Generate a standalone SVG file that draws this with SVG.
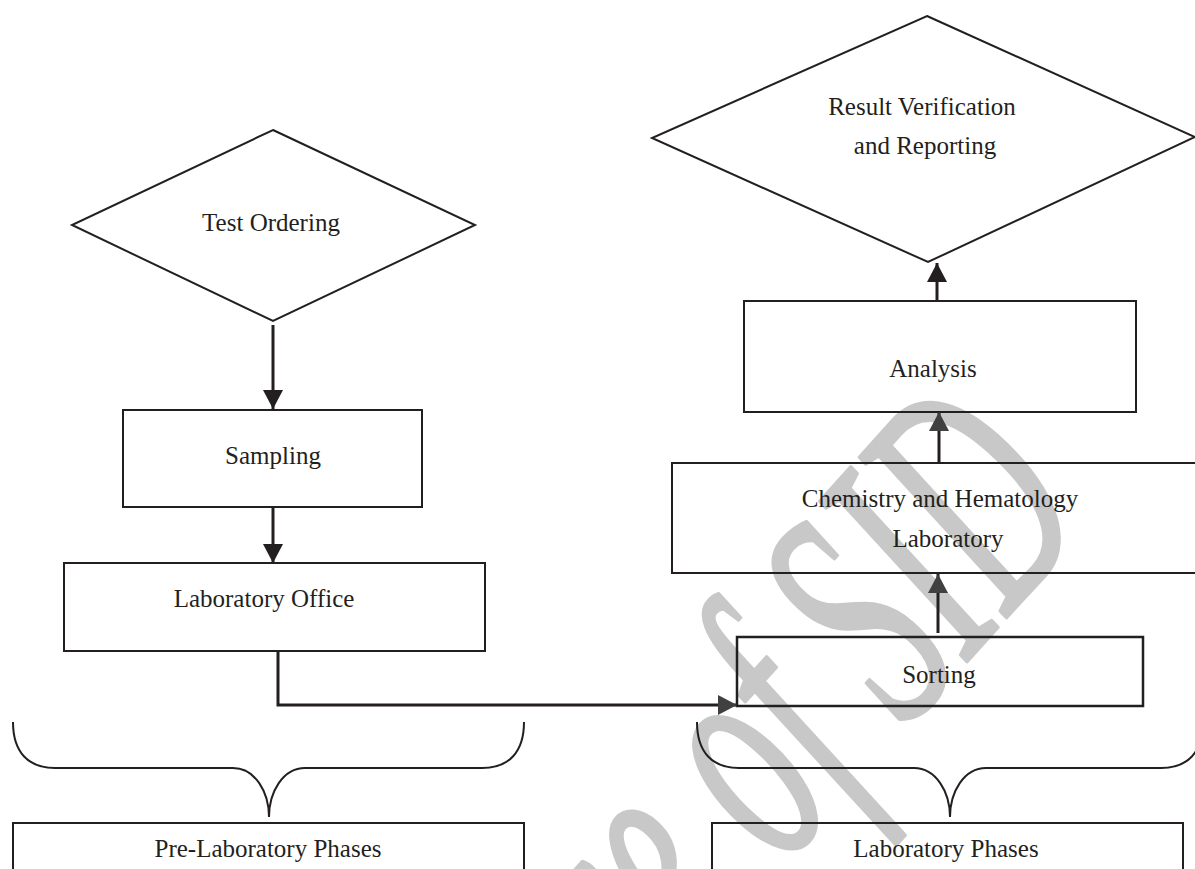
<svg xmlns="http://www.w3.org/2000/svg" width="1195" height="869" viewBox="0 0 1195 869">
<style>
.box{fill:none;stroke:#231f20;stroke-width:2}
.lbl{font-family:"Liberation Serif",serif;font-size:25px;fill:#231f20;text-anchor:middle}
.conn{fill:none;stroke:#231f20;stroke-width:3}
.brace{fill:none;stroke:#231f20;stroke-width:2}
.wm{font-family:"Liberation Serif",serif;font-style:italic;font-size:330px;fill:#c8c8c8;stroke:#c8c8c8;stroke-width:4;stroke-linejoin:round}
</style>
<defs>
<marker id="ah" markerUnits="userSpaceOnUse" markerWidth="20" markerHeight="20" refX="19" refY="10" orient="auto" viewBox="0 0 20 20"><path d="M0,0 L19,10 L0,20 z" fill="#231f20"/></marker>
<marker id="ah2" markerUnits="userSpaceOnUse" markerWidth="20" markerHeight="20" refX="19" refY="10" orient="auto" viewBox="0 0 20 20"><path d="M0,0 L19,10 L0,20 z" fill="#404040"/></marker>
</defs>
<rect width="1195" height="869" fill="#ffffff"/>
<g id="watermark">
<text class="wm" transform="translate(1095,519) rotate(-48) scale(0.55,1)" text-anchor="end">Archive of SID</text>
</g>
<g id="test-ordering">
<polygon class="box" points="273,130 475,225 273,321 72,225"/>
<text class="lbl" x="271" y="231">Test Ordering</text>
</g>
<g id="sampling">
<rect class="box" x="123" y="410" width="299" height="97"/>
<text class="lbl" x="273" y="464">Sampling</text>
</g>
<g id="laboratory-office">
<rect class="box" x="64" y="563" width="421" height="88"/>
<text class="lbl" x="264" y="607">Laboratory Office</text>
</g>
<g id="sorting">
<rect class="box" x="737" y="637" width="406" height="69" style="stroke-width:2.5"/>
<text class="lbl" x="939" y="683">Sorting</text>
</g>
<g id="chemistry-hematology">
<rect class="box" x="672" y="463" width="600" height="110"/>
<text class="lbl" x="940" y="507">Chemistry and Hematology</text>
<text class="lbl" x="948" y="547">Laboratory</text>
</g>
<g id="analysis">
<rect class="box" x="744" y="301" width="392" height="111"/>
<text class="lbl" x="933" y="377">Analysis</text>
</g>
<g id="result-verification">
<polygon class="box" points="927,16 1195,137 928,262 652,138"/>
<text class="lbl" x="922" y="115">Result Verification</text>
<text class="lbl" x="925" y="154">and Reporting</text>
</g>
<g id="pre-laboratory-phases">
<path class="brace" d="M13,722 C13,752 28,768 55,768 L233,768 C255,768 269,792 269,817 C269,792 283,768 305,768 L482,768 C509,768 524,752 524,722"/>
<rect class="box" x="13" y="823" width="511" height="80"/>
<text class="lbl" x="268" y="857">Pre-Laboratory Phases</text>
</g>
<g id="laboratory-phases">
<path class="brace" d="M697,722 C697,752 712,768 739,768 L914,768 C936,768 950,792 950,817 C950,792 964,768 986,768 L1161,768 C1188,768 1203,752 1203,722"/>
<rect class="box" x="712" y="823" width="471" height="80"/>
<text class="lbl" x="946" y="857">Laboratory Phases</text>
</g>
<g id="connectors">
<line class="conn" x1="273" y1="325" x2="273" y2="409" marker-end="url(#ah)"/>
<line class="conn" x1="273" y1="507" x2="273" y2="563" marker-end="url(#ah)"/>
<path class="conn" d="M278,651 V705 H737" marker-end="url(#ah2)"/>
<line class="conn" x1="938" y1="633" x2="938" y2="574" marker-end="url(#ah2)"/>
<line class="conn" x1="939" y1="463" x2="939" y2="412" marker-end="url(#ah2)"/>
<line class="conn" x1="937" y1="301" x2="937" y2="263" marker-end="url(#ah)"/>
</g>
</svg>
